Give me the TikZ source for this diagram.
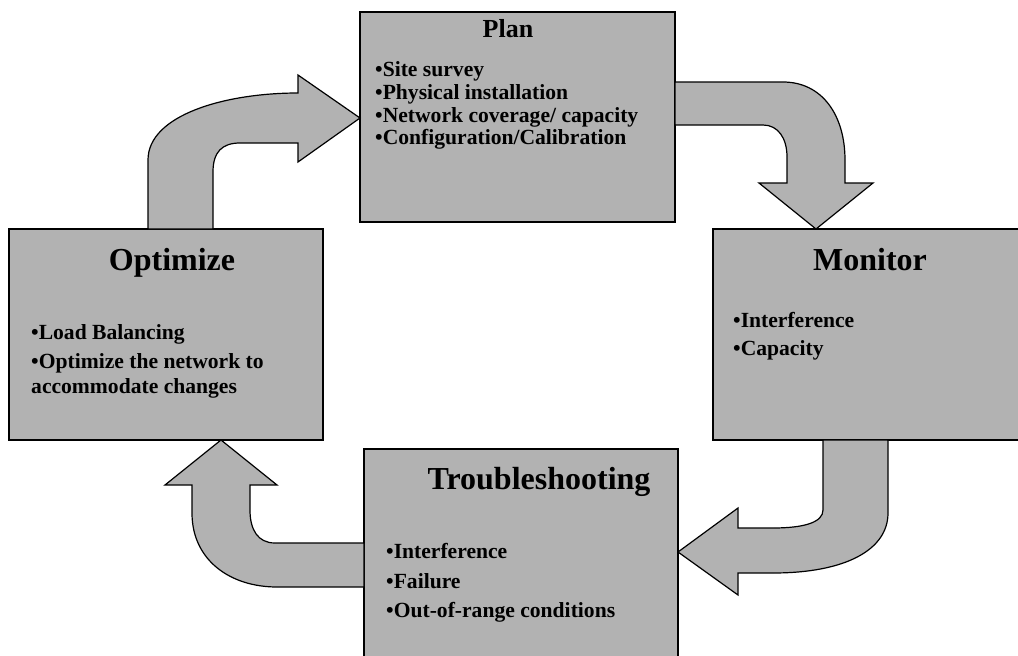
\documentclass[tikz,border=0pt]{standalone}
\usepackage{fontspec}
\setmainfont{Liberation Serif}
\usetikzlibrary{positioning}
\definecolor{ink}{gray}{0.0}
\definecolor{boxgray}{gray}{0.70}

\tikzset{
  stage/.style={draw=ink, fill=boxgray, line width=1.2pt, rectangle,
    inner sep=0pt, outer sep=0pt, anchor=north west},
  bigarrow/.style={draw=ink, fill=boxgray, line width=1.2pt, line join=miter},
  headline/.style={font=\fontsize{32}{36}\selectfont\bfseries, anchor=base, inner sep=0pt},
  item/.style={font=\fontsize{21.6}{25}\selectfont\bfseries, anchor=base west, inner sep=0pt},
}

\begin{document}
\begin{tikzpicture}[x=1pt, y=-1pt]
  \useasboundingbox (0,0) rectangle (1018,656);
  \clip (0,0) rectangle (1018,656);

  % the four stages
  \node[stage, minimum width=315pt, minimum height=210pt] (plan) at (360,12) {};
  \node[stage, minimum width=314pt, minimum height=211pt] (optimize) at (9,229) {};
  \node[stage, minimum width=330pt, minimum height=211pt] (monitor) at (713,229) {};
  \node[stage, minimum width=314pt, minimum height=230pt] (trouble) at (364,449) {};

  % bent block arrows, clockwise
  \draw[bigarrow] (148,0 |- optimize.north) -- (148,160)
      .. controls (148,115) and (225,93) .. (298,93) -- (298,75)
      -- (plan.west |- 0,118) -- (298,162) -- (298,143) -- (240,143)
      .. controls (222,143) and (213,152) .. (213,172)
      -- (213,0 |- optimize.north) -- cycle;
  \draw[bigarrow] (plan.east |- 0,82) -- (783,82)
      .. controls (822,82) and (845,115) .. (845,160) -- (845,183) -- (873,183)
      -- (816,0 |- monitor.north) -- (759,183) -- (787,183) -- (787,157)
      .. controls (787,138) and (778,125) .. (763,125)
      -- (plan.east |- 0,125) -- cycle;
  \draw[bigarrow] (823,0 |- monitor.south) -- (823,510)
      .. controls (823,522) and (805,528) .. (773,528) -- (738,528) -- (738,508)
      -- (trouble.east |- 0,552) -- (738,595) -- (738,573) -- (773,573)
      .. controls (845,573) and (888,550) .. (888,513)
      -- (888,0 |- monitor.south) -- cycle;
  \draw[bigarrow] (trouble.west |- 0,543) -- (275,543)
      .. controls (258,543) and (250,530) .. (250,510) -- (250,485) -- (277,485)
      -- (221,0 |- optimize.south) -- (165,485) -- (192,485) -- (192,513)
      .. controls (192,560) and (230,587) .. (277,587)
      -- (trouble.west |- 0,587) -- cycle;

  % texts
  \node[headline, font=\fontsize{26}{30}\selectfont\bfseries] (plan-title) at (508,37) {Plan};
  \node[item] (plan-1) at (375,76) {•Site survey};
  \node[item] (plan-2) at (375,99) {•Physical installation};
  \node[item] (plan-3) at (375,122) {•Network coverage/ capacity};
  \node[item] (plan-4) at (375,144) {•Configuration/Calibration};

  \node[headline] (optimize-title) at (172,270) {Optimize};
  \node[item] (optimize-1) at (31,339) {•Load Balancing};
  \node[item] (optimize-2) at (31,368) {•Optimize the network to};
  \node[item] (optimize-3) at (31,393) {accommodate changes};

  \node[headline] (monitor-title) at (870,270) {Monitor};
  \node[item] (monitor-1) at (733,327) {•Interference};
  \node[item] (monitor-2) at (733,355) {•Capacity};

  \node[headline] (trouble-title) at (539,489) {Troubleshooting};
  \node[item] (trouble-1) at (386,558) {•Interference};
  \node[item] (trouble-2) at (386,588) {•Failure};
  \node[item] (trouble-3) at (386,617) {•Out-of-range conditions};
\end{tikzpicture}
\end{document}
